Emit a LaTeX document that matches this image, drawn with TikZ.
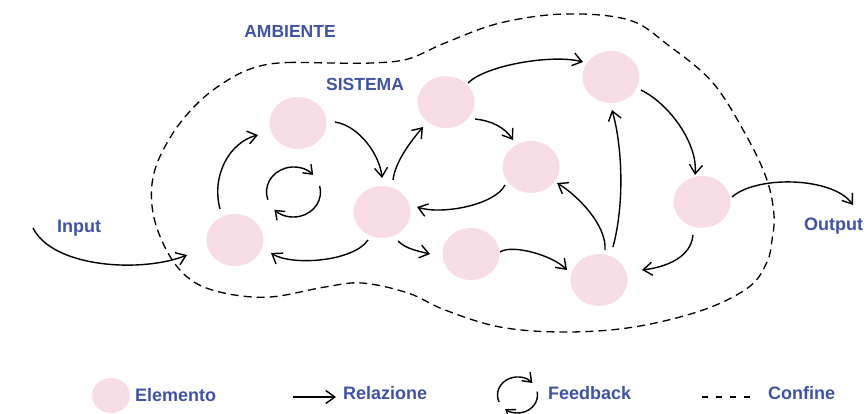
\documentclass[tikz,border=0pt]{standalone}
\usepackage{fontspec}
\setmainfont{Liberation Sans}
\usetikzlibrary{arrows.meta,calc,shapes.geometric}
\definecolor{elpink}{RGB}{249,221,230}
\definecolor{lblblue}{RGB}{66,82,163}
\begin{document}
\begin{tikzpicture}[x=1pt,y=-1pt,
  el/.style={ellipse,fill=elpink,draw=none,minimum width=57pt,minimum height=52pt,inner sep=0pt},
  rel/.style={line width=1.4pt,-{Straight Barb[length=9pt,width=13pt,line width=1.4pt]}},
  fbline/.style={line width=1.4pt,-{Straight Barb[length=8pt,width=12pt,line width=1.4pt]}},
  bound/.style={line width=1.3pt,dash pattern=on 8pt off 5pt},
  lbl/.style={text=lblblue,font=\fontsize{17.5}{17.5}\selectfont\bfseries,inner sep=0pt},
  leglbl/.style={text=lblblue,font=\fontsize{18}{18}\selectfont\bfseries,inner sep=0pt,anchor=west}]
\useasboundingbox (0,0) rectangle (868,413);
% boundary
\draw[bound] plot[smooth cycle,tension=0.6] coordinates {(260,66) (288,62.5) (330,63) (371,63) (408,59) (445,43) (500,23) (565,14) (629,20) (668,45) (713,83) (747,137) (767,180) (774,215) (772,240) (767,262) (749,287) (703,310) (634,327) (565,332) (500,327) (445,310) (408,293) (362,283) (325,287) (270,297) (224,293) (191,280) (168,253) (153,213) (154,173) (173,133) (201,100) (233,77)};
% labels
\node[lbl] (amb) at (290,31) {AMBIENTE};
\node[lbl] (sis) at (365,84) {SISTEMA};
\node[lbl,font=\fontsize{18}{18}\selectfont\bfseries] (inp) at (79,228) {Input};
\node[lbl,font=\fontsize{18}{18}\selectfont\bfseries] (outp) at (833.5,226) {Output};
% elements
\node[el] (A) at (298,123) {};
\node[el] (B) at (235,240) {};
\node[el] (C) at (382,212) {};
\node[el] (D) at (446,102) {};
\node[el] (E) at (531,167) {};
\node[el] (F) at (611,77) {};
\node[el] (G) at (471,254) {};
\node[el] (H) at (599,280) {};
\node[el] (I) at (702,202) {};
\coordinate (instart) at (33,228);
\coordinate (outtip) at (853,205);
\coordinate (fb) at (293.5,192);
% relations
\draw[rel] (instart) .. controls +(20,40) and +(-45,18) .. ($(B)+(-48,15)$);
\draw[rel] ($(B)+(-15,-31)$) .. controls +(-9,-34) and +(-28,7) .. ($(A)+(-40,12)$);
\draw[rel] ($(A)+(37,-1)$) .. controls +(25,4) and +(-2,-22) .. ($(C)+(0,-34)$);
\draw[rel] ($(C)+(11,-32)$) .. controls +(2,-18) and +(-12,14) .. ($(D)+(-23,25)$);
\draw[rel] ($(C)+(-14,28)$) .. controls +(-15,22) and +(20,13) .. ($(B)+(36,13)$);
\draw[rel] ($(C)+(16,29)$) .. controls +(8,8) and +(-12,-3) .. ($(G)+(-41,0)$);
\draw[rel] ($(D)+(22,-19)$) .. controls +(18,-18) and +(-30,-8) .. ($(F)+(-28,-15)$);
\draw[rel] ($(D)+(29,17)$) .. controls +(18,2) and +(-8,-12) .. ($(E)+(-18,-27)$);
\draw[rel] ($(E)+(-26,18)$) .. controls +(-10,20) and +(25,8) .. ($(C)+(35,-5)$);
\draw[rel] ($(G)+(29,-2)$) .. controls +(12,-8) and +(-15,-15) .. ($(H)+(-32,-10)$);
\draw[rel] ($(H)+(6,-30)$) .. controls +(2,-25) and +(20,12) .. ($(E)+(26,16)$);
\draw[rel] ($(H)+(14,-33)$) .. controls +(12,-45) and +(10,35) .. ($(F)+(1,33)$);
\draw[rel] ($(F)+(30,13)$) .. controls +(30,15) and +(3,-30) .. ($(I)+(-7,-27)$);
\draw[rel] ($(I)+(-9,33)$) .. controls +(-2,22) and +(25,-3) .. ($(H)+(43,-10)$);
\draw[rel] ($(I)+(30,-5)$) .. controls +(25,-22) and +(-20,-28) .. (outtip);
% feedback loop
\draw[fbline] ([shift={(162:27 and 25)}]fb) arc[start angle=162,end angle=317,x radius=27,y radius=25];
\draw[fbline] ([shift={(-14:27 and 25)}]fb) arc[start angle=-14,end angle=135,x radius=27,y radius=25];
% legend
\node[el,minimum width=38pt,minimum height=35pt] (lgel) at (111,395.5) {};
\node[leglbl] (lgelt) at (135,395) {Elemento};
\coordinate (lga) at (293,397);
\coordinate (lgb) at (336,397);
\draw[rel] (lga) -- (lgb);
\node[leglbl] (lgrelt) at (343,393.5) {Relazione};
\coordinate (lgfb) at (517.5,395);
\draw[fbline] ([shift={(157:20 and 18)}]lgfb) arc[start angle=157,end angle=318,x radius=20,y radius=18];
\draw[fbline] ([shift={(-11:20 and 18)}]lgfb) arc[start angle=-11,end angle=128,x radius=20,y radius=18];
\node[leglbl] (lgfbt) at (548,393.5) {Feedback};
\coordinate (lgd1) at (702,397);
\coordinate (lgd2) at (757,397);
\draw[line width=1.3pt,dash pattern=on 6pt off 8pt] (lgd1) -- (lgd2);
\node[leglbl] (lgdt) at (768,393.5) {Confine};
\end{tikzpicture}
\end{document}
